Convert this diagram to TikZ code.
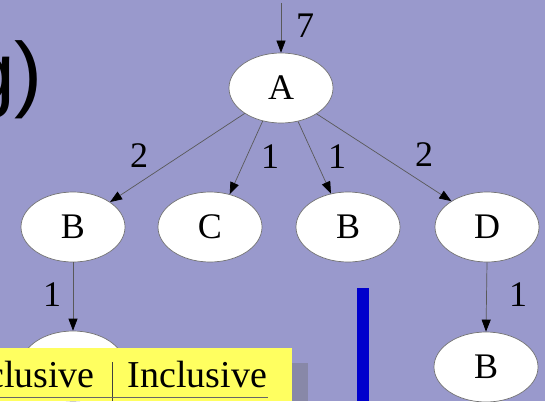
\documentclass[tikz,border=0pt]{standalone}
\usepackage{fontspec}
\setmainfont{Liberation Serif}
\newfontfamily\headfont{Liberation Sans}
\usetikzlibrary{arrows.meta,shapes.geometric}
\definecolor{slidebg}{RGB}{153,153,204}
\definecolor{notebox}{RGB}{255,255,96}
\definecolor{noteshadow}{RGB}{136,136,168}
\definecolor{barblue}{RGB}{0,0,204}
\begin{document}
\begin{tikzpicture}[x=1pt,y=-1pt,
  vert/.style={ellipse, draw=black!55, fill=white, line width=0.7pt,
    minimum width=104pt, minimum height=70pt, inner sep=0pt,
    font=\fontsize{36}{40}\selectfont},
  wt/.style={inner sep=0pt, font=\fontsize{36}{40}\selectfont},
  calledge/.style={draw=black!65, line width=0.7pt,
    -{Triangle[length=12pt,width=9pt,color=black]}}]
\useasboundingbox (0,0) rectangle (545,401);
\clip (0,0) rectangle (545,401);
\fill[slidebg] (0,0) rectangle (545,401);

% slide heading, cut by the left edge
\node[anchor=base east, inner sep=0pt, font=\headfont\fontsize{84}{90}\selectfont] (heading) at (43,102) {g)};

% call graph vertices
\node[vert] (A)  at (281,88)  {A};
\node[vert] (B1) at (73,227)  {B};
\node[vert] (C)  at (210,227) {C};
\node[vert] (B2) at (348,227) {B};
\node[vert] (D)  at (487,227) {D};
\node[vert] (B4) at (73,366)  {};
\node[vert] (B3) at (486,367) {B};
\coordinate (entry) at (281,3);

% call edges
\draw[calledge] (entry) -- (A.north);
\draw[calledge] (A.215) -- (B1.34);
\draw[calledge] (A.241) -- (C.59);
\draw[calledge] (A.297) -- (B2.117);
\draw[calledge] (A.324) -- (D.144);
\draw[calledge] (B1.south) -- (B4.north);
\draw[calledge] (D.south) -- (B3.north);

% call counts
\node[wt] (w7)  at (305,26)  {7};
\node[wt] (wb1) at (139,156) {2};
\node[wt] (wc)  at (270,157) {1};
\node[wt] (wb2) at (337,157) {1};
\node[wt] (wd)  at (424,155) {2};
\node[wt] (wb4) at (52,295)  {1};
\node[wt] (wb3) at (518,295) {1};

% table header note with its shadow
\fill[noteshadow] (292,363) rectangle (308,401);
\fill[notebox] (0,348) rectangle (292,401);
\node[anchor=base east, inner sep=0pt, font=\fontsize{38}{42}\selectfont] (excl) at (95,387) {Exclusive};
\node[anchor=base, inner sep=0pt, font=\fontsize{38}{42}\selectfont] (incl) at (197.5,387) {Inclusive};
\draw[black!75, line width=0.7pt] (112,362) -- (112,401);
\draw[black!60, line width=0.7pt] (0,397) -- (268,397);

% blue bar
\fill[barblue] (357,288) rectangle (369,401);
\end{tikzpicture}
\end{document}
